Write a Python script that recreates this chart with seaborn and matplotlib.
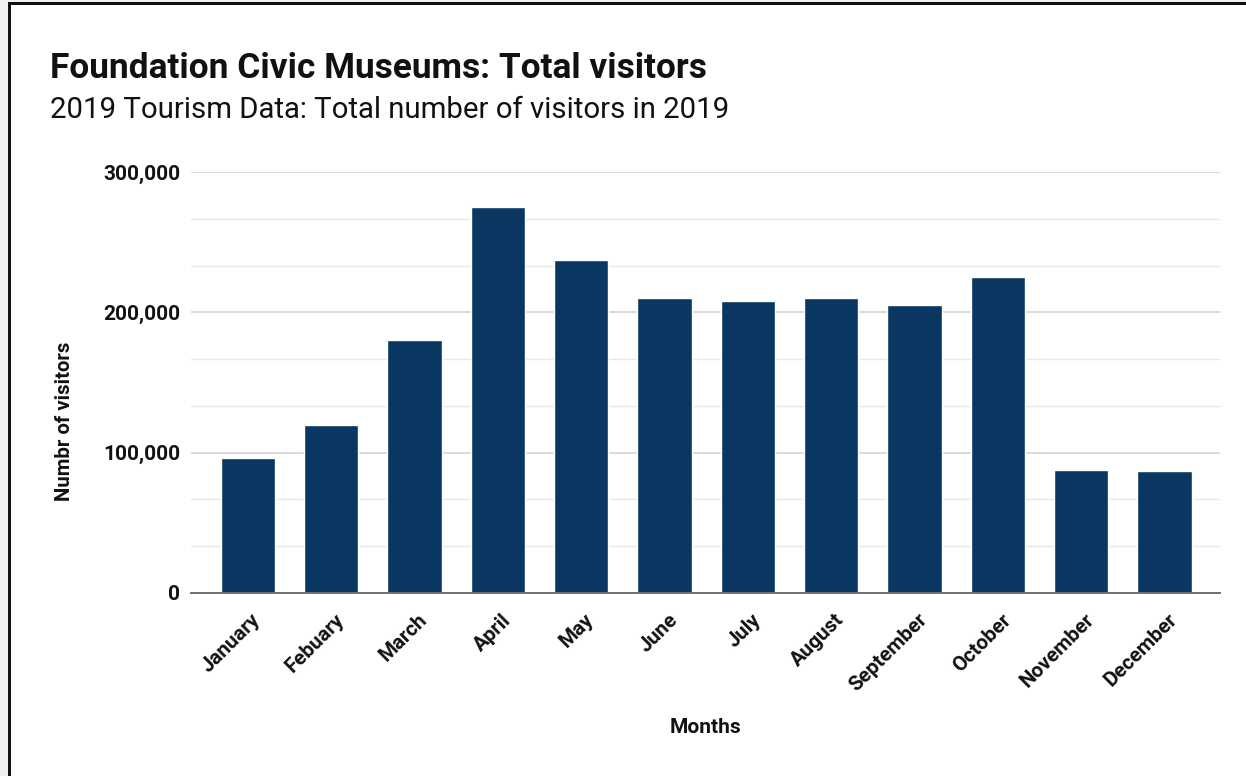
import matplotlib
matplotlib.use("Agg")
import matplotlib.pyplot as plt
import matplotlib.transforms as mtransforms
from matplotlib.ticker import FuncFormatter, MultipleLocator
from matplotlib.patches import Rectangle
import seaborn as sns
import pandas as pd

months = ["January", "Febuary", "March", "April", "May", "June", "July",
          "August", "September", "October", "November", "December"]
visitors = [96000, 120000, 180000, 275000, 237000, 210000, 208000,
            210000, 205000, 225000, 88000, 87000]
y_ticks = [0, 100000, 200000, 300000]

title = "Foundation Civic Museums: Total visitors"
subtitle = "2019 Tourism Data: Total number of visitors in 2019"
x_label = "Months"
y_label = "Numbr of visitors"

bar_color = "#0a3761"

sns.set_theme(style="white")
plt.rcParams["font.family"] = ["Roboto", "DejaVu Sans"]

W, H = 1246, 776
fig = plt.figure(figsize=(W / 100, H / 100), dpi=100)
fig.patch.set_facecolor("white")

ax = fig.add_axes([190.7 / W, 1 - 593 / H, (1220 - 190.7) / W, (593 - 172) / H])

df = pd.DataFrame({"month": months, "visitors": visitors})
sns.barplot(data=df, x="month", y="visitors", color=bar_color, width=0.65,
            saturation=1, ax=ax, zorder=3)

ax.set_xlim(-0.685, 11.666)
ax.set_ylim(0, 300000)
ax.yaxis.set_minor_locator(MultipleLocator(100000 / 3))
ax.set_yticks(y_ticks)
ax.yaxis.set_major_formatter(FuncFormatter(lambda v, p: f"{int(v):,}"))
ax.grid(axis="y", which="major", color="#d4d4d4", linewidth=1.2, zorder=0)
ax.grid(axis="y", which="minor", color="#e8e8e8", linewidth=1.0, zorder=0)
ax.grid(axis="x", visible=False)
ax.set_axisbelow(True)

for s in ["top", "right", "left"]:
    ax.spines[s].set_visible(False)
ax.spines["bottom"].set_color("#6f6f6f")
ax.spines["bottom"].set_linewidth(1.4)
ax.spines["bottom"].set_zorder(4)

ax.tick_params(axis="y", which="both", length=0, pad=7.7, labelsize=15,
               labelcolor="#111111")
ax.tick_params(axis="x", length=0, pad=5, labelsize=14.8, labelcolor="#111111")
for lab in ax.get_yticklabels():
    lab.set_fontweight("bold")

offset = mtransforms.ScaledTranslation(10 / 100, -17 / 100, fig.dpi_scale_trans)
for lab in ax.get_xticklabels():
    lab.set_rotation(45)
    lab.set_ha("right")
    lab.set_va("center")
    lab.set_rotation_mode("anchor")
    lab.set_fontweight("bold")
    lab.set_transform(lab.get_transform() + offset)

ax.set_xlabel(x_label, fontsize=15, fontweight="bold", color="#111111", labelpad=0)
ax.xaxis.set_label_coords(0.5, -(733 - 593) / (593 - 172), transform=ax.transAxes)
ax.xaxis.label.set_va("baseline")
ax.set_ylabel(y_label, fontsize=14.7, fontweight="bold", color="#111111")
ax.yaxis.set_label_coords(-(190.7 - 74) / (1220 - 190.7),
                          ((593 - 421) / (593 - 172)))

fig.text(50 / W, 1 - 77.7 / H, title, fontsize=25.4, fontweight="bold",
         color="#111111", ha="left", va="baseline")
fig.text(50 / W, 1 - 118 / H, subtitle, fontsize=21.2, color="#111111",
         ha="left", va="baseline")

# frame: light gray margin and black border on top/left
fig.patches.append(Rectangle((0, 0), 8 / W, 1, transform=fig.transFigure,
                             facecolor="#f0f0f0", edgecolor="none", zorder=0))
fig.patches.append(Rectangle((0, 1 - 2 / H), 1, 2 / H, transform=fig.transFigure,
                             facecolor="#f0f0f0", edgecolor="none", zorder=0))
fig.patches.append(Rectangle((8 / W, 0), 3 / W, 1 - 2 / H, transform=fig.transFigure,
                             facecolor="#111111", edgecolor="none", zorder=1))
fig.patches.append(Rectangle((8 / W, 1 - 5 / H), 1 - 8 / W, 3 / H, transform=fig.transFigure,
                             facecolor="#111111", edgecolor="none", zorder=1))

fig.savefig("out.png", dpi=100, facecolor="white")
